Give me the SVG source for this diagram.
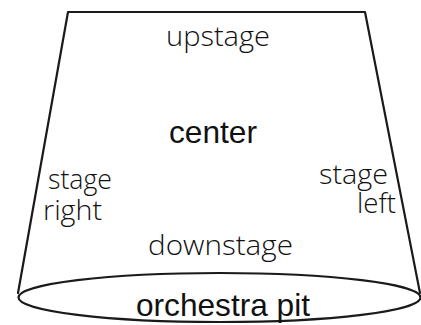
<svg xmlns="http://www.w3.org/2000/svg" width="421" height="325" viewBox="0 0 421 325">
  <style>
    .edge { fill: none; stroke: #1a1a1a; stroke-width: 2.2; stroke-linecap: round; stroke-linejoin: round; }
    .hum { font-family: "Open Sans", "Noto Sans", sans-serif; font-weight: 300; font-size: 27px; fill: #111111; }
    .hel { font-family: "Liberation Sans", Arial, sans-serif; font-size: 32px; fill: #111111; }
  </style>
  <rect width="421" height="325" fill="#ffffff"/>
  <!-- stage outline: trapezoid sides and the pit ellipse -->
  <g id="stage-outline">
    <polyline class="edge" points="18,293 68,12 365,12 420,293"/>
    <ellipse class="edge" cx="219.5" cy="297.5" rx="201" ry="24.5"/>
  </g>
  <g id="labels">
    <text class="hum" x="166" y="46" textLength="104" lengthAdjust="spacingAndGlyphs">upstage</text>
    <text class="hel" x="169" y="143" textLength="88" lengthAdjust="spacingAndGlyphs">center</text>
    <text class="hum"><tspan x="48" y="189" textLength="64" lengthAdjust="spacingAndGlyphs">stage</tspan><tspan x="43" y="220" textLength="59" lengthAdjust="spacingAndGlyphs">right</tspan></text>
    <text class="hum"><tspan x="319" y="184" textLength="69" lengthAdjust="spacingAndGlyphs">stage</tspan><tspan x="357" y="213" textLength="39" lengthAdjust="spacingAndGlyphs">left</tspan></text>
    <text class="hum" x="148" y="255" textLength="145" lengthAdjust="spacingAndGlyphs">downstage</text>
    <text class="hel" x="136" y="316" textLength="174" lengthAdjust="spacingAndGlyphs">orchestra pit</text>
  </g>
</svg>
